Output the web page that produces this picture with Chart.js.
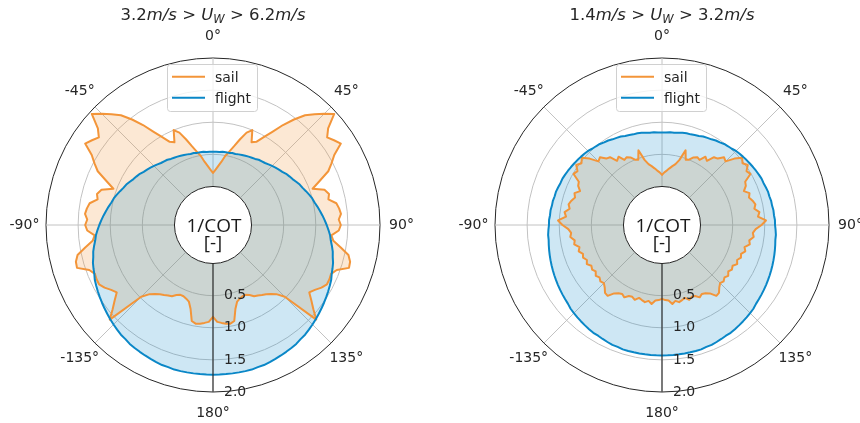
<!DOCTYPE html>
<html>
<head>
<meta charset="utf-8">
<script src="https://cdn.jsdelivr.net/npm/chart.js@4.4.1/dist/chart.umd.min.js"></script>
<style>
  html, body { margin: 0; padding: 0; background: #fff; }
  #wrap { position: relative; width: 860px; height: 423px; overflow: hidden; }
  canvas { position: absolute; top: 0; }
  .ttl { position: absolute; top: 7px; width: 300px; text-align: center;
         font-family: "DejaVu Sans", sans-serif; font-size: 16.5px; line-height: 16.5px;
         color: #262626; white-space: nowrap; }
  .ttl i { font-style: italic; }
  .ttl .sub { font-size: 11.5px; font-style: italic; position: relative; top: 3px; }
</style>
</head>
<body>
<div id="wrap">
  <canvas id="high" width="430" height="423" style="left:0"></canvas>
  <canvas id="low" width="430" height="423" style="left:430px"></canvas>
  <div class="ttl" style="left:63px">3.2<i>m/s</i> &gt; <i>U</i><span class="sub">W</span> &gt; 6.2<i>m/s</i></div>
  <div class="ttl" style="left:512px">1.4<i>m/s</i> &gt; <i>U</i><span class="sub">W</span> &gt; 3.2<i>m/s</i></div>
</div>
<script>
// Heading bins, 2.5° apart, clockwise from 0° (upwind) at the top
const angleStep = 2.5;
const angles = Array.from({ length: 144 }, (_, i) => i * angleStep);

const radialTicks = [0.5, 1.0, 1.5, 2.0];
const radialTickLabels = ['0.5', '1.0', '1.5', '2.0'];
const thetaTickIndex = [0, 18, 36, 54, 72, 90, 108, 126];
const thetaTickLabels = ['0°', '45°', '90°', '135°', '180°', '-135°', '-90°', '-45°'];
const seriesNames = ['sail', 'flight'];

// 1/COT per heading, wind 3.2–6.2 m/s
const sailHigh = [
  0.21,0.26,0.32,0.39,0.49,0.57,0.67,0.80,0.93,1.00,
  0.82,0.86,0.98,1.12,1.30,1.47,1.63,1.74,1.85,1.96,
  1.74,1.64,1.70,1.76,1.58,1.48,1.38,1.20,1.05,1.22,
  1.27,1.24,1.35,1.38,1.40,1.36,1.39,1.36,1.25,1.29,
  1.42,1.56,1.61,1.62,1.45,1.39,1.40,1.40,1.35,1.28,
  1.23,1.33,1.44,1.58,0.98,0.86,0.80,0.76,0.73,0.70,
  0.68,0.63,0.60,0.60,0.62,0.65,0.75,0.93,0.96,0.95,
  0.93,0.91,0.83,
  0.91,0.93,0.95,0.96,0.93,0.75,0.65,0.62,0.60,0.60,
  0.63,0.68,0.70,0.73,0.76,0.80,0.86,0.98,1.58,1.44,
  1.33,1.23,1.28,1.35,1.40,1.40,1.39,1.45,1.62,1.61,
  1.56,1.42,1.29,1.25,1.36,1.39,1.36,1.40,1.38,1.35,
  1.24,1.27,1.22,1.05,1.20,1.38,1.48,1.58,1.76,1.70,
  1.64,1.74,1.96,1.85,1.74,1.63,1.47,1.30,1.12,0.98,
  0.86,0.82,1.00,0.93,0.80,0.67,0.57,0.49,0.39,0.32,
  0.26
];
const flightHigh = [
  0.54,0.54,0.54,0.55,0.55,0.55,0.56,0.56,0.57,0.58,
  0.59,0.60,0.61,0.62,0.64,0.65,0.66,0.68,0.70,0.72,
  0.74,0.76,0.79,0.81,0.83,0.86,0.89,0.91,0.94,0.97,
  1.00,1.02,1.05,1.08,1.11,1.14,1.17,1.20,1.23,1.25,
  1.28,1.31,1.33,1.36,1.38,1.40,1.43,1.45,1.47,1.49,
  1.51,1.53,1.55,1.57,1.59,1.61,1.63,1.64,1.66,1.67,
  1.68,1.69,1.70,1.71,1.72,1.72,1.73,1.73,1.73,1.73,
  1.73,1.73,1.73,
  1.73,1.73,1.73,1.73,1.73,1.73,1.72,1.72,1.71,1.70,
  1.69,1.68,1.67,1.66,1.64,1.63,1.61,1.59,1.57,1.55,
  1.53,1.51,1.49,1.47,1.45,1.43,1.40,1.38,1.36,1.33,
  1.31,1.28,1.25,1.23,1.20,1.17,1.14,1.11,1.08,1.05,
  1.02,1.00,0.97,0.94,0.91,0.89,0.86,0.83,0.81,0.79,
  0.76,0.74,0.72,0.70,0.68,0.66,0.65,0.64,0.62,0.61,
  0.60,0.59,0.58,0.57,0.56,0.56,0.55,0.55,0.55,0.54,
  0.54
];

// 1/COT per heading, wind 1.4–3.2 m/s
const sailLow = [
  0.18,0.22,0.25,0.29,0.33,0.37,0.45,0.62,0.48,0.50,
  0.56,0.59,0.57,0.66,0.62,0.73,0.75,0.83,0.80,0.93,
  1.03,0.98,1.03,0.96,0.99,0.86,0.84,0.78,0.85,0.82,
  0.86,0.89,0.86,0.93,0.90,1.02,0.95,0.86,0.82,0.84,
  0.78,0.80,0.73,0.76,0.71,0.73,0.69,0.72,0.67,0.69,
  0.66,0.70,0.67,0.70,0.68,0.72,0.78,0.79,0.70,0.66,
  0.64,0.67,0.62,0.61,0.64,0.59,0.61,0.63,0.60,0.64,
  0.58,0.57,0.55,
  0.57,0.58,0.64,0.60,0.63,0.61,0.59,0.64,0.61,0.62,
  0.67,0.64,0.66,0.70,0.79,0.78,0.72,0.68,0.70,0.67,
  0.70,0.66,0.69,0.67,0.72,0.69,0.73,0.71,0.76,0.73,
  0.80,0.78,0.84,0.82,0.86,0.95,1.02,0.90,0.93,0.86,
  0.89,0.86,0.82,0.85,0.78,0.84,0.86,0.99,0.96,1.03,
  0.98,1.03,0.93,0.80,0.83,0.75,0.73,0.62,0.66,0.57,
  0.59,0.56,0.50,0.48,0.62,0.45,0.37,0.33,0.29,0.25,
  0.22
];
const flightLow = [
  0.84,0.84,0.85,0.85,0.86,0.87,0.88,0.88,0.89,0.90,
  0.92,0.93,0.94,0.96,0.97,0.99,1.00,1.01,1.03,1.04,
  1.05,1.06,1.07,1.08,1.09,1.10,1.11,1.11,1.12,1.13,
  1.13,1.14,1.14,1.15,1.15,1.16,1.16,1.17,1.18,1.18,
  1.19,1.20,1.21,1.22,1.23,1.24,1.25,1.26,1.27,1.28,
  1.29,1.30,1.31,1.33,1.34,1.35,1.36,1.37,1.38,1.39,
  1.39,1.40,1.41,1.42,1.42,1.43,1.43,1.43,1.43,1.43,
  1.43,1.43,1.43,
  1.43,1.43,1.43,1.43,1.43,1.43,1.43,1.42,1.42,1.41,
  1.40,1.39,1.39,1.38,1.37,1.36,1.35,1.34,1.33,1.31,
  1.30,1.29,1.28,1.27,1.26,1.25,1.24,1.23,1.22,1.21,
  1.20,1.19,1.18,1.18,1.17,1.16,1.16,1.15,1.15,1.14,
  1.14,1.13,1.13,1.12,1.11,1.11,1.10,1.09,1.08,1.07,
  1.06,1.05,1.04,1.03,1.01,1.00,0.99,0.97,0.96,0.94,
  0.93,0.92,0.90,0.89,0.88,0.88,0.87,0.86,0.85,0.85,
  0.84
];

const INK = '#262626';
const GRID = '#c2c2c2';
const ORANGE = '#f39539';
const ORANGE_FILL = 'rgba(243,149,57,0.22)';
const BLUE = '#0a87c7';
const BLUE_FILL = 'rgba(10,135,199,0.2)';
const SPINE_INDEX = 72;   // the 180° direction carries the radial axis

Chart.defaults.font.family = '"DejaVu Sans", sans-serif';

// Centre hole, radial axis, tick labels and legend drawn on top of the scale
const polarFrame = {
  id: 'polarFrame',
  afterDatasetsDraw(chart) {
    const s = chart.scales.r;
    const ctx = chart.ctx;
    const r0 = s.getDistanceFromCenterForValue(0);
    const rMax = s.getDistanceFromCenterForValue(s.max);
    ctx.save();

    const a = s.getPointPosition(SPINE_INDEX, r0);
    const b = s.getPointPosition(SPINE_INDEX, rMax);
    ctx.strokeStyle = INK;
    ctx.lineWidth = 1.1;
    ctx.beginPath();
    ctx.moveTo(a.x, a.y);
    ctx.lineTo(b.x, b.y);
    ctx.stroke();

    ctx.beginPath();
    ctx.arc(s.xCenter, s.yCenter, r0, 0, Math.PI * 2);
    ctx.fillStyle = '#fff';
    ctx.fill();
    ctx.lineWidth = 1;
    ctx.stroke();

    ctx.fillStyle = '#1a1a1a';
    ctx.font = '19px "Open Sans"';
    ctx.textAlign = 'center';
    ctx.textBaseline = 'alphabetic';
    ctx.fillText('1/COT', s.xCenter + 1, s.yCenter + 6.7);
    ctx.fillText('[-]', s.xCenter, s.yCenter + 23.7);

    ctx.fillStyle = INK;
    ctx.font = '14px "DejaVu Sans"';
    ctx.textAlign = 'left';
    ctx.textBaseline = 'middle';
    radialTicks.forEach((v, k) => {
      const p = s.getPointPosition(SPINE_INDEX, s.getDistanceFromCenterForValue(v));
      ctx.fillText(radialTickLabels[k], p.x + 11, p.y);
    });

    ctx.textAlign = 'center';
    thetaTickIndex.forEach((idx, k) => {
      const p = s.getPointPosition(idx, rMax + 21.5);
      ctx.fillText(thetaTickLabels[k], p.x, p.y);
    });
    ctx.restore();
  },
  afterDraw(chart) {
    const s = chart.scales.r;
    const ctx = chart.ctx;
    const x0 = s.xCenter - 45.5, y0 = 64.5, w = 90, h = 47, rad = 3;
    ctx.save();
    ctx.beginPath();
    ctx.moveTo(x0 + rad, y0);
    ctx.arcTo(x0 + w, y0, x0 + w, y0 + h, rad);
    ctx.arcTo(x0 + w, y0 + h, x0, y0 + h, rad);
    ctx.arcTo(x0, y0 + h, x0, y0, rad);
    ctx.arcTo(x0, y0, x0 + w, y0, rad);
    ctx.closePath();
    ctx.fillStyle = 'rgba(255,255,255,0.8)';
    ctx.fill();
    ctx.strokeStyle = '#d0d0d0';
    ctx.lineWidth = 1;
    ctx.stroke();

    ctx.font = '14px "DejaVu Sans"';
    ctx.textAlign = 'left';
    ctx.textBaseline = 'alphabetic';
    chart.data.datasets.forEach((ds, k) => {
      const y = 76.7 + k * 21;
      ctx.strokeStyle = ds.borderColor;
      ctx.lineWidth = 2;
      ctx.beginPath();
      ctx.moveTo(s.xCenter - 41, y);
      ctx.lineTo(s.xCenter - 8, y);
      ctx.stroke();
      ctx.fillStyle = INK;
      ctx.fillText(ds.label, s.xCenter + 2, y + 4.8);
    });
    ctx.restore();
  }
};

function makeChart(id, padLeft, sail, flight) {
  return new Chart(document.getElementById(id), {
    type: 'radar',
    data: {
      labels: angles,
      datasets: [
        { label: seriesNames[0], data: sail, borderColor: ORANGE, backgroundColor: ORANGE_FILL,
          fill: 'origin', borderWidth: 2, pointRadius: 0, borderJoinStyle: 'round', order: 1 },
        { label: seriesNames[1], data: flight, borderColor: BLUE, backgroundColor: BLUE_FILL,
          fill: 'origin', borderWidth: 2, pointRadius: 0, borderJoinStyle: 'round', order: 0 }
      ]
    },
    options: {
      responsive: false,
      animation: false,
      events: [],
      layout: { padding: { left: padLeft, right: 430 - padLeft - 334, top: 58, bottom: 31 } },
      scales: {
        r: {
          min: -0.6,
          max: 2.0,
          afterBuildTicks: sc => { sc.ticks = radialTicks.map(v => ({ value: v })); },
          ticks: { display: false },
          pointLabels: { display: false },
          grid: {
            circular: true,
            color: c => (c.tick && c.tick.value === 2 ? INK : GRID),
            lineWidth: 1
          },
          angleLines: {
            color: GRID,
            lineWidth: c => (c.index % 18 === 0 ? 1 : 0)
          }
        }
      },
      plugins: {
        legend: { display: false },
        tooltip: { enabled: false },
        filler: { drawTime: 'beforeDatasetsDraw' }
      }
    },
    plugins: [polarFrame]
  });
}

makeChart('high', 46, sailHigh, flightHigh);
makeChart('low', 65, sailLow, flightLow);
</script>
</body>
</html>
